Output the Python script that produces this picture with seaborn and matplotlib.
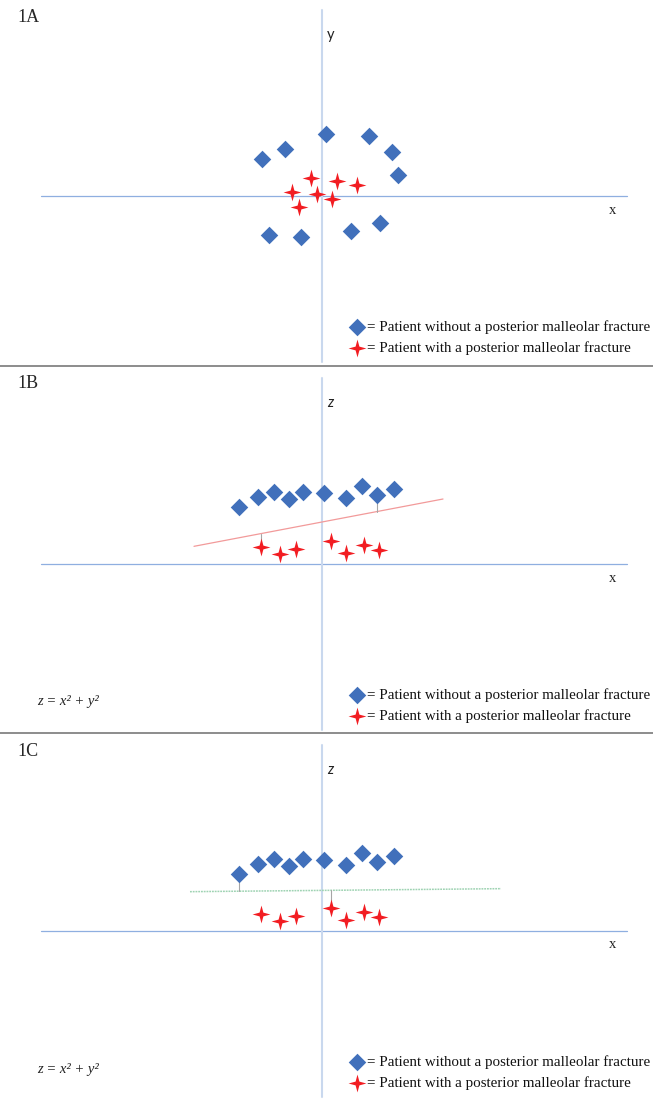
import math
import matplotlib
matplotlib.use("Agg")
import matplotlib.pyplot as plt
from matplotlib.path import Path
from matplotlib.lines import Line2D
import seaborn as sns

# ---- data -------------------------------------------------------------
# 1A: patients in the original (x, y) plane
a_no_x = [-6.0, -3.7, 0.4, 4.7, 7.0, 7.6, -5.3, -2.1, 2.9, 5.8]
a_no_y = [3.7, 4.7, 6.2, 6.0, 4.4, 2.1, -3.9, -4.1, -3.5, -2.7]
a_yes_x = [-1.1, 1.5, 3.5, -3.0, -0.5, 1.0, -2.3]
a_yes_y = [1.8, 1.5, 1.1, 0.4, 0.2, -0.3, -1.1]

# 1B / 1C: the same patients lifted with z = x^2 + y^2
bc_no_x = [-8.3, -6.4, -4.8, -3.3, -1.9, 0.2, 2.4, 4.0, 5.5, 7.2]
bc_no_z = [5.7, 6.7, 7.2, 6.5, 7.2, 7.1, 6.6, 7.8, 6.9, 7.5]
bc_yes_x = [-6.1, -4.2, -2.6, 0.9, 2.4, 4.2, 5.7]
bc_yes_z = [1.7, 1.0, 1.5, 2.3, 1.1, 1.9, 1.4]

# separating lines z = intercept + slope * x, drawn over an x range
b_intercept, b_slope, b_xrange = 4.2, 0.19, (-12.8, 12.1)
c_intercept, c_slope, c_xrange = 4.06, 0.0097, (-13.2, 17.9)

# support vectors: (group, index)
b_support = [("yes", 0), ("no", 8)]
c_support = [("no", 0), ("yes", 3)]

panel_labels = ["1A", "1B", "1C"]
axis_letters = [("x", "y"), ("x", "z"), ("x", "z")]
legend_labels = ["= Patient without a posterior malleolar fracture",
                 "= Patient with a posterior malleolar fracture"]
equation = "z = x\u00b2 + y\u00b2"

# ---- style ------------------------------------------------------------
sns.set_style("white")
plt.rcParams["font.family"] = ["Liberation Serif", "DejaVu Serif"]

BLUE = "#4170BB"
RED = "#F21D22"
VAXIS = "#C9D8EE"
HAXIS = "#8FAFE0"
SEP = "#6E6E6E"

# four-pointed star marker
r_in = 0.3
star_verts = []
for k in range(8):
    ang = math.radians(90 - 45 * k)
    r = 1.0 if k % 2 == 0 else r_in
    star_verts.append((r * math.cos(ang), r * math.sin(ang)))
star_verts.append(star_verts[0])
STAR = Path(star_verts, closed=True)

W, H = 653, 1099
fig = plt.figure(figsize=(W / 100, H / 100), dpi=100)
fig.patch.set_facecolor("white")

tops = [0, 366, 733]
bottoms = [366, 733, 1099]
origin_y = [196, 564, 931]
origin_x = 322
UNIT = 10.0  # pixels per data unit

DIAMOND_S = 80
STAR_S = 165


def draw_points(ax, nx, ny, yx, yy):
    sns.scatterplot(x=nx, y=ny, marker="D", s=DIAMOND_S, color=BLUE,
                    linewidth=0, ax=ax, zorder=4)
    sns.scatterplot(x=yx, y=yy, marker=STAR, s=STAR_S, color=RED,
                    linewidth=0, ax=ax, zorder=4)


for i in range(3):
    top, bot, oy = tops[i], bottoms[i], origin_y[i]
    ax = fig.add_axes([0, 1 - bot / H, 1, (bot - top) / H])
    ax.set_xlim((0 - origin_x) / UNIT, (W - origin_x) / UNIT)
    ax.set_ylim((oy - bot) / UNIT, (oy - top) / UNIT)
    ax.axis("off")

    # coordinate axes
    ax.plot([-28.1, 30.5], [0, 0], color=HAXIS, lw=0.9, zorder=1)
    ax.plot([0, 0], [18.6, -16.6], color=VAXIS, lw=1.5, zorder=1)

    if i == 0:
        draw_points(ax, a_no_x, a_no_y, a_yes_x, a_yes_y)
    else:
        b0, b1, xr = ((b_intercept, b_slope, b_xrange) if i == 1
                      else (c_intercept, c_slope, c_xrange))
        if i == 1:
            ax.plot(list(xr), [b0 + b1 * x for x in xr], color="#F29A9A",
                    lw=0.9, zorder=2)
        else:
            ax.plot(list(xr), [b0 + b1 * x for x in xr], color="#9FD3B3",
                    lw=1.1, ls=(0, (1.2, 0.6)), zorder=2)
        for grp, idx in (b_support if i == 1 else c_support):
            px = bc_no_x[idx] if grp == "no" else bc_yes_x[idx]
            pz = bc_no_z[idx] if grp == "no" else bc_yes_z[idx]
            ax.plot([px, px], [pz, b0 + b1 * px], color="#A6A6A6",
                    lw=0.8, zorder=3)
        draw_points(ax, bc_no_x, bc_no_z, bc_yes_x, bc_yes_z)
        ax.text(-28.5, -13.8, equation, fontsize=10.5, style="italic",
                ha="left", va="center", color="#222222")

    # panel label and axis letters
    ax.text(-30.5, (oy - top - 18) / UNIT,
            panel_labels[i], fontsize=13, ha="left", va="center")
    ax.text(29.1, -1.4, axis_letters[i][0], fontsize=10.5, ha="center",
            va="center", color="#222222")
    ax.text(0.85, 16.1, axis_letters[i][1], fontsize=10.5, ha="center",
            va="center", color="#222222", family=["Lato", "DejaVu Sans"],
            style="italic" if i > 0 else "normal")

    # key
    ax.scatter([3.5], [-13.1], marker="D", s=DIAMOND_S, color=BLUE,
               linewidth=0, zorder=4)
    ax.scatter([3.5], [-15.2], marker=STAR, s=STAR_S, color=RED,
               linewidth=0, zorder=4)
    ax.text(4.5, -13.1, legend_labels[0], fontsize=10.8, ha="left",
            va="center", color="#111111")
    ax.text(4.5, -15.2, legend_labels[1], fontsize=10.8, ha="left",
            va="center", color="#111111")

# panel separators
for yy in (366, 733):
    fig.add_artist(Line2D([0, 1], [1 - yy / H] * 2, transform=fig.transFigure,
                          color=SEP, lw=1.1))

fig.savefig("out.png", dpi=100, facecolor="white")
